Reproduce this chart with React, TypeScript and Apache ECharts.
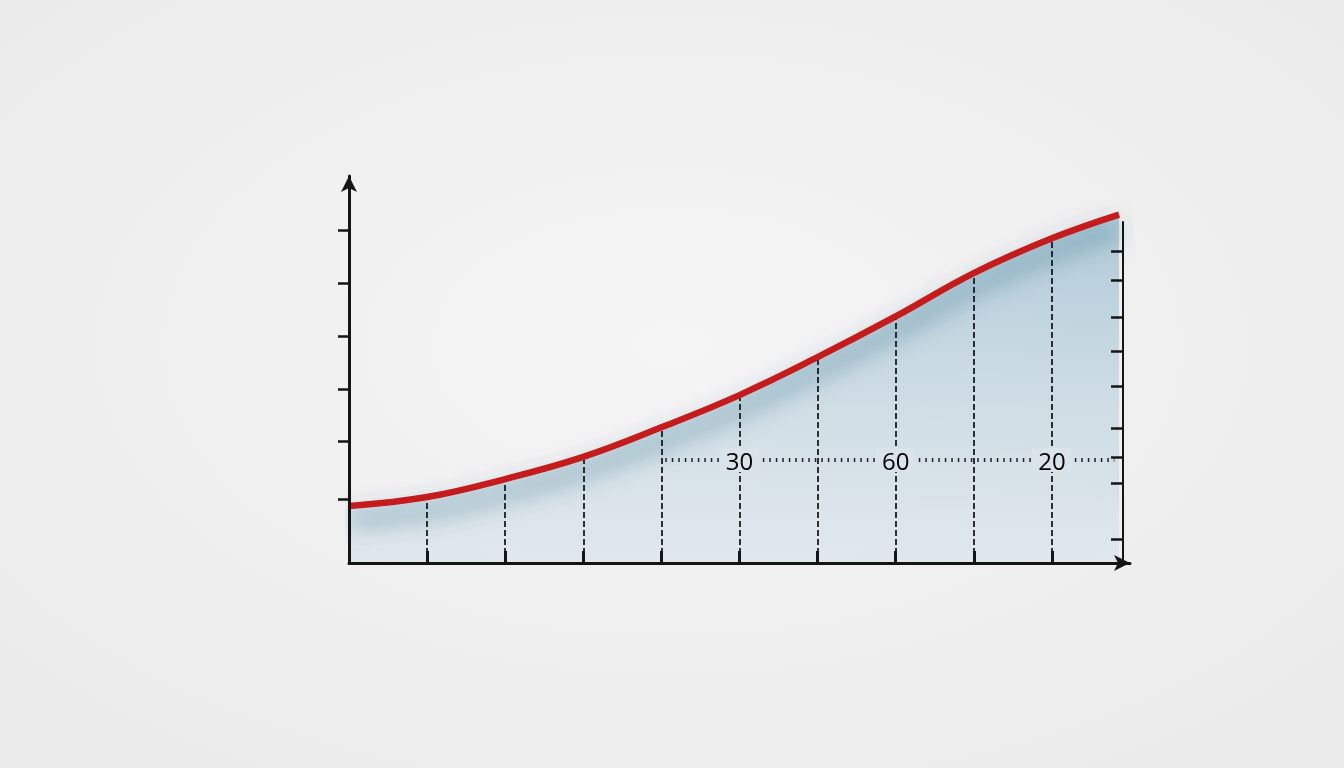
import React, { useEffect, useRef } from "react";
import * as echarts from "echarts";

// Curve samples (x in tick units, y in value units)
const xValues = [0, 1, 2, 3, 4, 5, 6, 7, 8, 9, 9.86];
const yValues = [7.8, 9.5, 12.9, 17.1, 22.7, 28.8, 36.0, 43.7, 51.9, 58.5, 63.0];

// Bottom axis ticks with dashed drop lines
const dropIndexes = [1, 2, 3, 4, 5, 6, 7, 8, 9];

// Left and right axis tick values
const leftTicks = [9, 20, 30, 40, 50, 60];
const rightTicks = [1.5, 12, 17, 22.5, 30.5, 37, 43.5, 50.5, 56];

// Inline labels
const labelXs = [5, 7, 9];
const labelTexts = ["30", "60", "20"];
const labelLevel = 16.5;
const dottedRange = [4.05, 9.8];

const Y_MIN = -3;
const Y_MAX = 70.3;
const X_MIN = 0;
const X_MAX = 10;

export default function App() {
  const ref = useRef<HTMLDivElement>(null);

  useEffect(() => {
    if (!ref.current) return;
    const chart = echarts.init(ref.current, undefined, { renderer: "svg" });

    const lineData = xValues.map((x, i) => [x, yValues[i]]);
    const dropLines = dropIndexes.map((i) => [
      { coord: [xValues[i], Y_MIN] },
      { coord: [xValues[i], yValues[i] - 0.6] },
    ]);

    chart.setOption({
      animation: false,
      backgroundColor: {
        type: "radial",
        x: 0.5,
        y: 0.45,
        r: 0.8,
        colorStops: [
          { offset: 0, color: "#f5f5f5" },
          { offset: 1, color: "#e9e9e9" },
        ],
      },
      grid: [
        { left: 349, right: 214, top: 176, bottom: 205 },
        { left: 349, right: 221, top: 222, bottom: 205 },
      ],
      xAxis: [
        {
          type: "value",
          gridIndex: 0,
          min: X_MIN,
          max: X_MAX,
          interval: 1,
          z: 20,
          axisLine: {
            show: true,
            onZero: false,
            symbol: ["none", "arrow"],
            symbolSize: [12, 16],
            lineStyle: { color: "#151515", width: 3 },
          },
          axisTick: {
            show: true,
            inside: true,
            length: 12,
            customValues: dropIndexes.map((i) => xValues[i]),
            lineStyle: { color: "#151515", width: 3 },
          },
          axisLabel: { show: false },
          splitLine: { show: false },
        },
        {
          type: "value",
          gridIndex: 1,
          min: X_MIN,
          max: X_MAX,
          show: false,
        },
      ],
      yAxis: [
        {
          type: "value",
          gridIndex: 0,
          min: Y_MIN,
          max: Y_MAX,
          z: 20,
          axisLine: {
            show: true,
            onZero: false,
            symbol: ["none", "arrow"],
            symbolSize: [12, 16],
            lineStyle: { color: "#151515", width: 3 },
          },
          axisTick: {
            show: true,
            inside: false,
            length: 11,
            customValues: leftTicks,
            lineStyle: { color: "#151515", width: 2.5 },
          },
          axisLabel: { show: false },
          splitLine: { show: false },
        },
        {
          type: "value",
          gridIndex: 1,
          position: "right",
          min: Y_MIN,
          max: Y_MIN + (563 - 222) / 5.284,
          z: 20,
          axisLine: {
            show: true,
            onZero: false,
            lineStyle: { color: "#151515", width: 2 },
          },
          axisTick: {
            show: true,
            inside: true,
            length: 12,
            customValues: rightTicks,
            lineStyle: { color: "#151515", width: 2.5 },
          },
          axisLabel: { show: false },
          splitLine: { show: false },
        },
      ],
      series: [
        {
          type: "line",
          xAxisIndex: 0,
          yAxisIndex: 0,
          data: lineData,
          smooth: 0.4,
          symbol: "none",
          z: 3,
          lineStyle: {
            color: "#c41f1a",
            width: 6.5,
            shadowColor: "rgba(25,75,105,0.7)",
            shadowBlur: 24,
            shadowOffsetY: 14,
          },
          areaStyle: {
            origin: "start",
            color: {
              type: "linear",
              x: 0,
              y: 0,
              x2: 0,
              y2: 1,
              colorStops: [
                { offset: 0, color: "rgba(145,184,205,0.95)" },
                { offset: 0.55, color: "rgba(190,211,223,0.95)" },
                { offset: 1, color: "rgba(216,228,235,0.95)" },
              ],
            },
          },
          markLine: {
            silent: true,
            symbol: ["none", "none"],
            label: { show: false },
            lineStyle: { color: "#111", width: 1.7, type: [6, 3] },
            data: dropLines,
          },
        },
        {
          type: "scatter",
          xAxisIndex: 0,
          yAxisIndex: 0,
          z: 4,
          symbolSize: 0,
          silent: true,
          data: [],
          markLine: {
            silent: true,
            symbol: ["none", "none"],
            label: { show: false },
            lineStyle: { color: "#222", width: 4, type: [1.5, 5] },
            data: [
              [
                { coord: [dottedRange[0], labelLevel] },
                { coord: [dottedRange[1], labelLevel] },
              ],
            ],
          },
        },
        {
          type: "scatter",
          xAxisIndex: 0,
          yAxisIndex: 0,
          z: 10,
          symbolSize: 1,
          itemStyle: { color: "rgba(0,0,0,0)" },
          silent: true,
          data: labelXs.map((x) => [x, labelLevel]),
          label: {
            show: true,
            position: "inside",
            formatter: (p: any) => labelTexts[p.dataIndex],
            fontFamily: "'Open Sans', 'DejaVu Sans', sans-serif",
            fontSize: 24,
            fontWeight: 500,
            color: "#000000",
            opacity: 1,
            textBorderWidth: 0,
            backgroundColor: "#d9e3e9",
            padding: [0, 6],
          },
        },
      ],
    });

    return () => chart.dispose();
  }, []);

  return (
    <div
      ref={ref}
      style={{ position: "fixed", left: 0, top: 0, width: 1344, height: 768 }}
    />
  );
}
